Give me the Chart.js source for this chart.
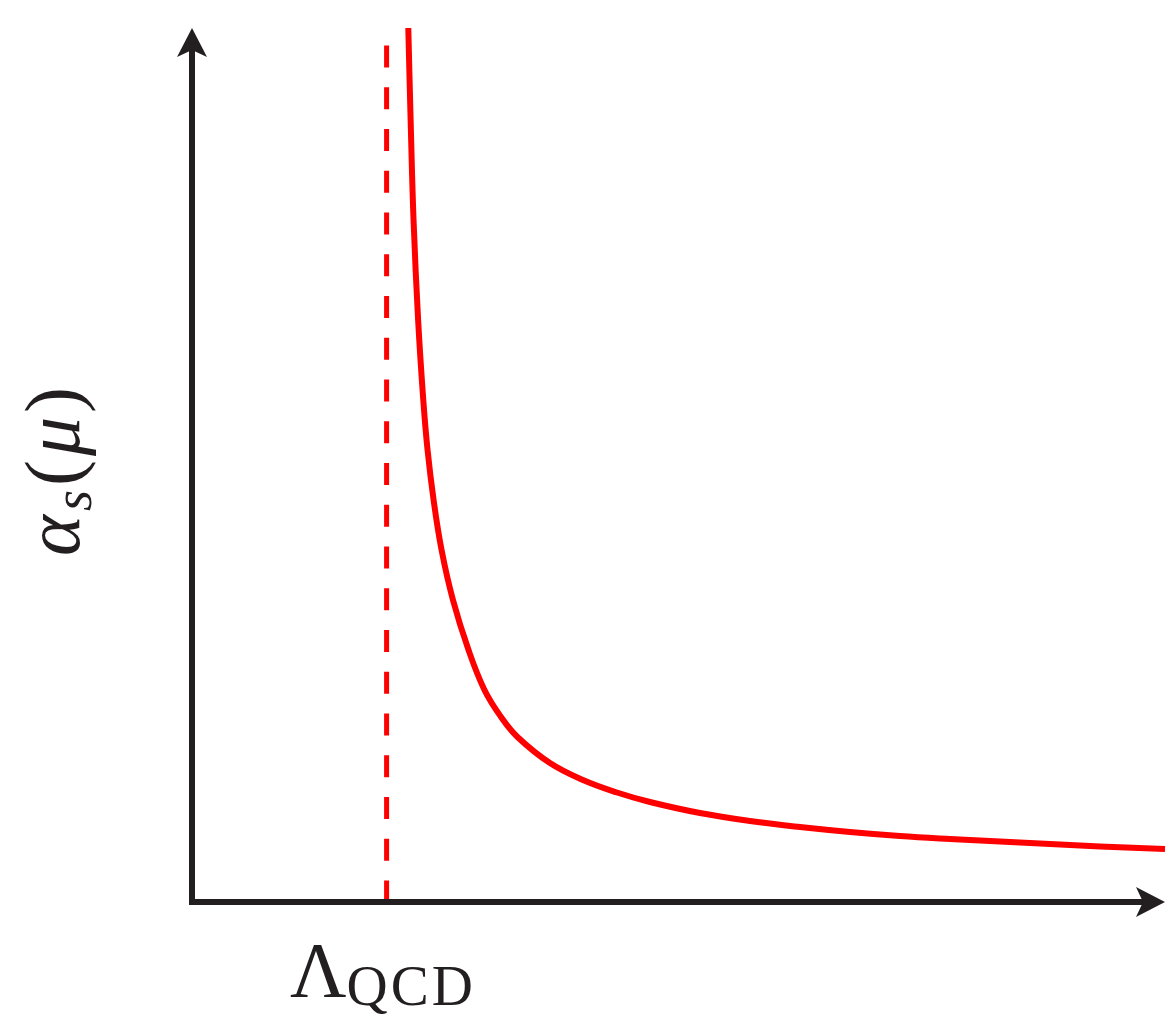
<!DOCTYPE html>
<html>
<head>
<meta charset="utf-8">
<script src="https://cdn.jsdelivr.net/npm/chart.js@4/dist/chart.umd.min.js"></script>
<style>
  body { margin: 0; background: #fff; }
  #wrap { position: relative; width: 1169px; height: 1016px; }
  .lbl { position: absolute; white-space: nowrap; color: #231f20;
         font-family: "Liberation Serif", "DejaVu Serif", serif; font-size: 78px; line-height: 78px; }
  .it { font-style: italic; }
  .sub { font-size: 54px; position: relative; }
</style>
</head>
<body>
<div id="wrap">
  <canvas id="myChart" width="1169" height="1016"></canvas>
  <div class="lbl" id="ylabel" style="left:14px; top:556px; transform-origin:0 0; transform:rotate(-90deg); letter-spacing:4px;"><span class="it">α</span><span class="sub it" style="top:12px">s</span><span>(</span><span class="it">μ</span><span>)</span></div>
  <div class="lbl" id="xlabel" style="left:290px; top:931px;"><span>Λ</span><span class="sub" style="top:9px; font-size:57px; letter-spacing:3px;">QCD</span></div>
</div>
<script>
// running coupling curve (arbitrary units)
const curveX = [2.223, 2.247, 2.277, 2.324, 2.377, 2.421, 2.483, 2.565, 2.682, 2.842, 3.006, 3.176,
                3.345, 3.679, 4.018, 4.368, 4.707, 5.221, 5.735, 6.249, 6.763, 7.276, 7.790, 8.304,
                8.818, 9.332, 10.0];
const curveY = [10.0, 8.947, 7.803, 6.659, 5.744, 5.172, 4.600, 4.027, 3.455, 2.883, 2.426, 2.117,
                1.888, 1.590, 1.396, 1.253, 1.144, 1.018, 0.927, 0.858, 0.801, 0.755, 0.721, 0.692,
                0.664, 0.635, 0.606];

// Lambda_QCD marker
const lambdaX = [2.0, 2.0];
const lambdaY = [9.8, 0];

const axisColor = '#231f20';

// draws the two axes with arrow heads
const arrowAxes = {
    id: 'arrowAxes',
    afterDatasetsDraw(chart) {
        const ctx = chart.ctx;
        const a = chart.chartArea;
        const len = 29, half = 15, notch = 7;
        ctx.save();
        ctx.strokeStyle = axisColor;
        ctx.fillStyle = axisColor;
        ctx.lineWidth = 6;
        ctx.lineJoin = 'miter';
        ctx.beginPath();
        ctx.moveTo(a.left, a.top + 20);
        ctx.lineTo(a.left, a.bottom);
        ctx.lineTo(a.right - 20, a.bottom);
        ctx.stroke();

        // y arrow
        ctx.beginPath();
        ctx.moveTo(a.left, a.top);
        ctx.lineTo(a.left + half, a.top + len);
        ctx.lineTo(a.left, a.top + len - notch);
        ctx.lineTo(a.left - half, a.top + len);
        ctx.closePath();
        ctx.fill();

        // x arrow
        ctx.beginPath();
        ctx.moveTo(a.right, a.bottom);
        ctx.lineTo(a.right - len, a.bottom - half);
        ctx.lineTo(a.right - len + notch, a.bottom);
        ctx.lineTo(a.right - len, a.bottom + half);
        ctx.closePath();
        ctx.fill();
        ctx.restore();
    }
};

const ctx = document.getElementById('myChart').getContext('2d');
const myChart = new Chart(ctx, {
    type: 'line',
    data: {
        datasets: [
            {
                label: 'alpha_s',
                data: curveX.map((x, i) => ({ x: x, y: curveY[i] })),
                borderColor: '#ff0000',
                borderWidth: 6,
                pointRadius: 0,
                tension: 0.4,
                clip: 10
            },
            {
                label: 'Lambda',
                data: lambdaX.map((x, i) => ({ x: x, y: lambdaY[i] })),
                borderColor: '#ff0000',
                borderWidth: 5,
                borderDash: [22, 19.75],
                pointRadius: 0,
                clip: 10
            }
        ]
    },
    options: {
        responsive: false,
        animation: false,
        devicePixelRatio: 1,
        layout: { padding: { left: 192, right: 4, top: 28, bottom: 114 } },
        plugins: { legend: { display: false }, tooltip: { enabled: false } },
        scales: {
            x: { type: 'linear', min: 0, max: 10, display: false },
            y: { type: 'linear', min: 0, max: 10, display: false }
        }
    },
    plugins: [arrowAxes]
});
</script>
</body>
</html>
